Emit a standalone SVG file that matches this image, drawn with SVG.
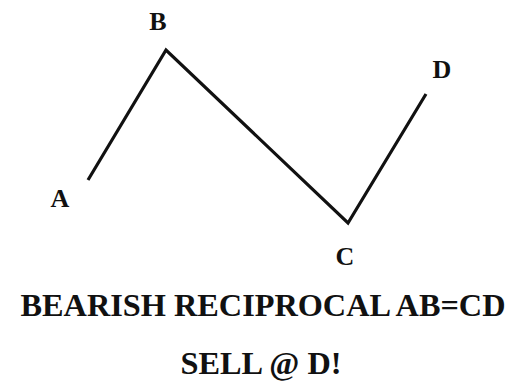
<svg xmlns="http://www.w3.org/2000/svg" width="517" height="381" viewBox="0 0 517 381">
<style>
.lbl{font-family:"Liberation Serif","Times New Roman",serif;font-weight:bold;fill:#111;text-anchor:middle}
.pt{font-size:26px}
.cap{font-size:32.3px}
.conn{fill:none;stroke:#111;stroke-width:3.2;stroke-linejoin:miter}
</style>
<rect width="517" height="381" fill="#fff"/>
<g id="connectors">
<polyline class="conn" points="88,180 166,50 348,223 426,94"/>
</g>
<g id="node-A"><text class="lbl pt" x="60" y="207">A</text></g>
<g id="node-B"><text class="lbl pt" x="158" y="30">B</text></g>
<g id="node-C"><text class="lbl pt" x="345" y="265">C</text></g>
<g id="node-D"><text class="lbl pt" x="442" y="78">D</text></g>
<g id="title"><text class="lbl cap" x="263" y="316">BEARISH RECIPROCAL AB=CD</text></g>
<g id="subtitle"><text class="lbl cap" x="261" y="374">SELL @ D!</text></g>
</svg>
